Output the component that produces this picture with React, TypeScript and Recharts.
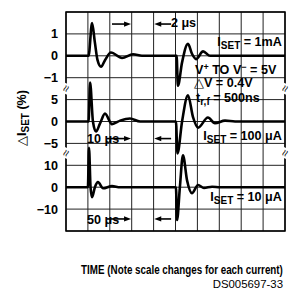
import React from 'react';
import {
  LineChart,
  Line,
  XAxis,
  YAxis,
  CartesianGrid,
  ReferenceLine,
  ReferenceDot,
  ReferenceArea
} from 'recharts';

// time in µs, deviation of ISET in %
const time1mA = [0, 2.06, 2.38, 2.64, 2.88, 3.2, 3.56, 4.1, 5.12, 6.12, 6.94, 10.1, 10.22, 10.6, 11.14, 11.5, 11.88, 12.52, 13.16, 20];
const dev1mA = [0, 0, 1.5, 0.6, -0.2, -0.5, -0.2, 0.15, -0.1, 0.07, 0, 0, -1.37, -0.3, 0.55, 0.1, -0.15, 0.2, 0, 0];

const time100uA = [0, 10.3, 11, 12.3, 13.7, 15.5, 17.8, 21, 24.7, 29.2, 33.8, 50.2, 50.9, 53, 55.7, 58, 60.3, 64.8, 68, 72.6, 77.2, 100];
const dev100uA = [0, 0, 8.9, 0, -2.3, -0.5, 1.8, -0.6, 0.2, 0.7, 0, 0, -7.3, 0, 6, 1, -1.4, 0.9, -0.4, 0.2, 0, 0];

const time10uA = [0, 50, 52.5, 56, 59.5, 66, 73, 84.5, 105, 123.5, 251, 253.5, 260, 267, 276.5, 287.5, 301.5, 315, 333.5, 351.5, 500];
const dev10uA = [0, 0, 18, 0, -4.6, 0, 2.3, -0.5, 0.5, 0, 0, -15, 0, 14.6, 3, -2.7, 1, -0.3, 0.2, 0, 0];

// scope settings per trace: µs per division, % per division, division of the zero line
const usPerDiv = [2, 10, 50];
const pctPerDiv = [1, 5, 10];
const zeroDiv = [8, 5, 2];
const timeLabels = ['2 μs', '10 μs', '50 μs'];

// tick labels on the 10-division graticule, from bottom to top
const yTickLabels = ['', '−10', '0', '10', '−5', '0', '5', '−1', '0', '1', ''];
const divs = [0, 1, 2, 3, 4, 5, 6, 7, 8, 9, 10];

const FONT = "'Liberation Sans', Arial, sans-serif";

const toTrace = (t: number[], v: number[], i: number) =>
  t.map((tt, k) => ({ x: tt / usPerDiv[i], y: zeroDiv[i] + v[k] / pctPerDiv[i] }));

const traces = [
  toTrace(time1mA, dev1mA, 0),
  toTrace(time100uA, dev100uA, 1),
  toTrace(time10uA, dev10uA, 2)
];

const Arrow = (p: any) => {
  const { x1, y1, x2, y2 } = p;
  const d = Math.sign(x2 - x1);
  return (
    <g>
      <line x1={x1} y1={y1} x2={x2 - d * 5} y2={y2} stroke="#000" strokeWidth={1.6} />
      <polygon points={`${x2},${y2} ${x2 - d * 7},${y2 - 2.6} ${x2 - d * 7},${y2 + 2.6}`} fill="#000" />
    </g>
  );
};

const Break = (p: any) => (
  <g transform={`translate(${p.cx},${p.cy}) rotate(-65)`}>
    <rect x={-5} y={-3.5} width={10} height={7} fill="#fff" />
    <text x={0} y={4} textAnchor="middle" fontSize={12} fontFamily={FONT} fill="#000">≈</text>
  </g>
);

const Iset = ({ cx, cy, value }: any) => (
  <text x={cx} y={cy} textAnchor="end" fontFamily={FONT} fontWeight="bold" fontSize={12.6} fill="#000">
    I<tspan fontSize={10} dy={3}>SET</tspan>
    <tspan dy={-3}>{` = ${value}`}</tspan>
  </text>
);

const Note = ({ cx, cy, children }: any) => (
  <text x={cx} y={cy} fontFamily={FONT} fontWeight="bold" fontSize={12.6} fill="#000">
    {children}
  </text>
);

const annotY = [9.45, 4.22, 0.55];
const labelY = [9.32, 4.02, 0.32];

export default function App() {
  return (
    <div style={{ position: 'absolute', left: 0, top: 0, width: 293, height: 295, background: '#fff' }}>
      <LineChart width={293} height={295} margin={{ top: 12, right: 8, bottom: 64, left: 0 }}>
        <CartesianGrid stroke="#222" strokeWidth={1} />
        <XAxis type="number" dataKey="x" domain={[0, 10]} ticks={divs} hide allowDataOverflow />
        <YAxis
          type="number"
          domain={[0, 10]}
          ticks={divs}
          width={66}
          axisLine={false}
          tickLine={false}
          allowDataOverflow
          interval={0}
          tickFormatter={(v: number) => yTickLabels[v]}
          tick={{ fill: '#000', fontSize: 12.6, fontWeight: 'bold', fontFamily: FONT }}
        />
        <ReferenceArea x1={0} x2={10} y1={0} y2={10} fill="none" stroke="#000" strokeWidth={1.5} ifOverflow="visible" />
        {traces.map((d, i) => (
          <Line
            key={i}
            data={d}
            dataKey="y"
            type="monotone"
            stroke="#000"
            strokeWidth={2.6}
            dot={false}
            isAnimationActive={false}
          />
        ))}
        {[0, 1, 2].map((i) => (
          <ReferenceLine
            key={'ar' + i}
            segment={[{ x: i === 0 ? 2.1 : 1.87, y: annotY[i] }, { x: 2.97, y: annotY[i] }]}
            shape={Arrow}
            ifOverflow="visible"
          />
        ))}
        {[0, 1, 2].map((i) => (
          <ReferenceLine
            key={'al' + i}
            segment={[{ x: 4.8, y: annotY[i] }, { x: 4.03, y: annotY[i] }]}
            shape={Arrow}
            ifOverflow="visible"
          />
        ))}
        <ReferenceDot x={4.79} y={labelY[0]} r={0} ifOverflow="visible"
          shape={(p: any) => <Note cx={p.cx} cy={p.cy}>{timeLabels[0]}</Note>} />
        <ReferenceDot x={0.96} y={labelY[1]} r={0} ifOverflow="visible"
          shape={(p: any) => <Note cx={p.cx} cy={p.cy}>{timeLabels[1]}</Note>} />
        <ReferenceDot x={0.96} y={labelY[2]} r={0} ifOverflow="visible"
          shape={(p: any) => <Note cx={p.cx} cy={p.cy}>{timeLabels[2]}</Note>} />
        <ReferenceDot x={9.86} y={8.45} r={0} ifOverflow="visible"
          shape={(p: any) => <Iset cx={p.cx} cy={p.cy} value="1mA" />} />
        <ReferenceDot x={9.86} y={4.16} r={0} ifOverflow="visible"
          shape={(p: any) => <Iset cx={p.cx} cy={p.cy} value="100 μA" />} />
        <ReferenceDot x={9.86} y={1.37} r={0} ifOverflow="visible"
          shape={(p: any) => <Iset cx={p.cx} cy={p.cy} value="10 μA" />} />
        <ReferenceDot x={5.89} y={7.17} r={0} ifOverflow="visible"
          shape={(p: any) => (
            <Note cx={p.cx} cy={p.cy}>
              V<tspan fontSize={9} dy={-4}>+</tspan><tspan dy={4}> TO V</tspan>
              <tspan fontSize={9} dy={-4}>−</tspan><tspan dy={4}> = 5V</tspan>
            </Note>
          )} />
        <ReferenceDot x={5.84} y={6.58} r={0} ifOverflow="visible"
          shape={(p: any) => (
            <Note cx={p.cx} cy={p.cy}>
              <tspan fontWeight="normal">△</tspan>V = 0.4V
            </Note>
          )} />
        <ReferenceDot x={5.94} y={5.89} r={0} ifOverflow="visible"
          shape={(p: any) => (
            <Note cx={p.cx} cy={p.cy}>
              t<tspan fontSize={10} dy={3}>r,f</tspan><tspan dy={-3}> = 500ns</tspan>
            </Note>
          )} />
        {[6.5, 3.56].map((y) => (
          <ReferenceDot key={'bl' + y} x={0} y={y} r={0} ifOverflow="visible" shape={Break} />
        ))}
        {[6.5, 3.56].map((y) => (
          <ReferenceDot key={'br' + y} x={10} y={y} r={0} ifOverflow="visible" shape={Break} />
        ))}
      </LineChart>
      <svg width={293} height={295} style={{ position: 'absolute', left: 0, top: 0, pointerEvents: 'none' }}>
        <text transform="translate(26,118) rotate(-90)" textAnchor="middle" fontFamily={FONT} fontWeight="bold" fontSize={12.6} fill="#000">
          <tspan fontWeight="normal">△</tspan>I<tspan fontSize={10} dy={3}>SET</tspan>
          <tspan dy={-3}> (%)</tspan>
        </text>
        <text transform="translate(182,274) scale(0.78,1)" textAnchor="middle" fontFamily={FONT} fontWeight="bold" fontSize={12.6} fill="#000">
          TIME (Note scale changes for each current)
        </text>
        <text x={283} y={288} textAnchor="end" fontFamily={FONT} fontSize={11.4} fill="#000">
          DS005697-33
        </text>
      </svg>
    </div>
  );
}
